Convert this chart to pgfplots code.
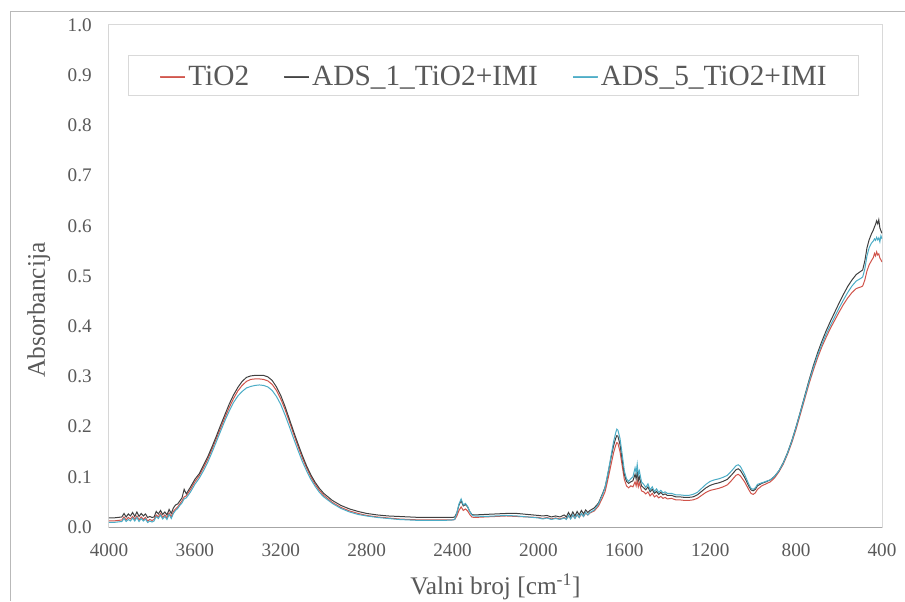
\documentclass[border=0pt]{standalone}
\usepackage{fontspec}
\setmainfont{Liberation Serif}
\usepackage{pgfplots}
\usepackage{pgfplotstable}
\pgfplotsset{compat=1.18}

\definecolor{txtgray}{HTML}{595959}
\definecolor{tio}{HTML}{D0534A}
\definecolor{adsone}{HTML}{404040}
\definecolor{adsfive}{HTML}{4BACC6}

% wavenumber, TiO2, ADS_1_TiO2+IMI, ADS_5_TiO2+IMI
\pgfplotstableread{
x     a      b      c
4000  0.012  0.018  0.009
3980  0.012  0.018  0.009
3960  0.013  0.019  0.010
3940  0.014  0.020  0.011
3930  0.020  0.027  0.017
3920  0.014  0.020  0.011
3910  0.019  0.026  0.015
3900  0.016  0.022  0.012
3890  0.021  0.029  0.018
3880  0.015  0.021  0.012
3870  0.022  0.030  0.019
3860  0.014  0.021  0.011
3850  0.020  0.027  0.017
3840  0.015  0.022  0.012
3830  0.019  0.026  0.016
3820  0.012  0.019  0.009
3810  0.015  0.021  0.012
3800  0.013  0.019  0.010
3790  0.015  0.020  0.012
3780  0.024  0.031  0.021
3770  0.020  0.026  0.017
3760  0.027  0.033  0.024
3750  0.019  0.025  0.016
3740  0.024  0.030  0.021
3730  0.018  0.024  0.015
3720  0.028  0.035  0.025
3710  0.020  0.027  0.017
3700  0.031  0.038  0.027
3690  0.036  0.044  0.033
3680  0.040  0.046  0.037
3670  0.046  0.052  0.043
3660  0.052  0.058  0.048
3650  0.060  0.075  0.056
3640  0.062  0.066  0.058
3620  0.075  0.080  0.070
3600  0.090  0.095  0.085
3580  0.102  0.106  0.097
3560  0.118  0.123  0.112
3540  0.135  0.140  0.129
3520  0.155  0.160  0.149
3500  0.176  0.181  0.170
3480  0.197  0.203  0.191
3460  0.218  0.224  0.212
3440  0.238  0.245  0.231
3420  0.256  0.263  0.248
3400  0.271  0.278  0.261
3380  0.282  0.290  0.270
3360  0.290  0.298  0.277
3340  0.294  0.301  0.280
3320  0.295  0.302  0.282
3300  0.295  0.302  0.283
3280  0.294  0.302  0.282
3260  0.291  0.299  0.279
3240  0.284  0.292  0.272
3220  0.272  0.279  0.260
3200  0.255  0.262  0.244
3180  0.234  0.240  0.223
3160  0.210  0.215  0.200
3140  0.185  0.190  0.176
3120  0.161  0.166  0.153
3100  0.138  0.143  0.131
3080  0.118  0.122  0.112
3060  0.100  0.104  0.095
3040  0.085  0.089  0.081
3020  0.073  0.077  0.069
3000  0.063  0.067  0.060
2960  0.049  0.053  0.047
2920  0.039  0.043  0.037
2880  0.032  0.036  0.030
2840  0.027  0.031  0.025
2800  0.023  0.027  0.022
2750  0.020  0.024  0.019
2700  0.018  0.022  0.017
2650  0.016  0.021  0.015
2600  0.015  0.020  0.014
2550  0.014  0.019  0.013
2500  0.014  0.019  0.013
2450  0.014  0.019  0.013
2400  0.014  0.019  0.014
2390  0.015  0.020  0.015
2380  0.022  0.028  0.028
2370  0.033  0.044  0.046
2360  0.040  0.052  0.056
2350  0.033  0.042  0.044
2340  0.036  0.045  0.047
2330  0.032  0.040  0.041
2320  0.025  0.031  0.031
2310  0.020  0.025  0.024
2300  0.019  0.024  0.022
2250  0.020  0.025  0.021
2200  0.021  0.026  0.022
2150  0.022  0.027  0.023
2100  0.021  0.027  0.022
2050  0.020  0.025  0.020
2000  0.019  0.023  0.018
1980  0.017  0.022  0.016
1960  0.019  0.023  0.018
1940  0.016  0.020  0.015
1920  0.018  0.022  0.017
1900  0.016  0.020  0.015
1880  0.019  0.024  0.018
1870  0.016  0.020  0.015
1860  0.022  0.029  0.023
1850  0.017  0.021  0.016
1840  0.023  0.030  0.024
1830  0.018  0.022  0.017
1820  0.024  0.031  0.025
1810  0.019  0.024  0.019
1800  0.026  0.033  0.027
1790  0.021  0.026  0.021
1780  0.028  0.034  0.029
1770  0.024  0.029  0.024
1760  0.028  0.033  0.029
1740  0.032  0.038  0.034
1720  0.042  0.048  0.046
1700  0.060  0.068  0.066
1690  0.070  0.079  0.078
1680  0.088  0.098  0.100
1670  0.108  0.120  0.122
1660  0.128  0.142  0.146
1650  0.148  0.162  0.170
1640  0.163  0.177  0.188
1635  0.168  0.182  0.195
1630  0.167  0.181  0.193
1620  0.150  0.164  0.176
1610  0.122  0.134  0.145
1600  0.095  0.105  0.112
1590  0.082  0.091  0.096
1580  0.078  0.087  0.091
1570  0.082  0.090  0.096
1560  0.080  0.092  0.100
1550  0.090  0.105  0.118
1545  0.082  0.096  0.108
1540  0.093  0.110  0.125
1535  0.080  0.092  0.104
1530  0.088  0.100  0.112
1520  0.072  0.082  0.090
1510  0.070  0.078  0.085
1500  0.066  0.074  0.079
1490  0.070  0.080  0.086
1480  0.062  0.070  0.074
1470  0.067  0.075  0.080
1460  0.060  0.067  0.071
1450  0.063  0.071  0.076
1440  0.058  0.065  0.069
1430  0.061  0.069  0.073
1420  0.057  0.064  0.068
1410  0.059  0.066  0.070
1400  0.056  0.063  0.067
1380  0.057  0.063  0.067
1360  0.054  0.060  0.064
1340  0.054  0.060  0.064
1320  0.053  0.059  0.063
1300  0.053  0.059  0.063
1280  0.054  0.060  0.065
1260  0.057  0.064  0.069
1240  0.063  0.071  0.077
1220  0.069  0.078  0.085
1200  0.073  0.083  0.091
1180  0.075  0.086  0.094
1160  0.077  0.088  0.096
1140  0.080  0.091  0.099
1120  0.084  0.095  0.103
1100  0.093  0.104  0.112
1080  0.103  0.114  0.122
1070  0.105  0.116  0.124
1060  0.102  0.113  0.121
1040  0.090  0.099  0.105
1020  0.074  0.081  0.085
1010  0.067  0.074  0.077
1000  0.065  0.072  0.075
990   0.068  0.075  0.078
980   0.075  0.082  0.085
960   0.082  0.087  0.088
940   0.086  0.090  0.091
920   0.090  0.094  0.094
900   0.098  0.101  0.101
880   0.110  0.112  0.112
860   0.125  0.128  0.127
840   0.145  0.148  0.147
820   0.168  0.172  0.171
800   0.195  0.200  0.199
780   0.225  0.230  0.229
760   0.255  0.261  0.259
740   0.285  0.292  0.289
720   0.312  0.321  0.317
700   0.337  0.347  0.342
680   0.359  0.370  0.364
660   0.378  0.391  0.384
640   0.396  0.410  0.402
620   0.412  0.428  0.419
600   0.428  0.446  0.436
580   0.443  0.463  0.452
560   0.456  0.479  0.467
540   0.467  0.492  0.480
520   0.475  0.503  0.490
500   0.478  0.509  0.495
490   0.480  0.512  0.498
480   0.492  0.530  0.514
470   0.510  0.556  0.540
460   0.522  0.572  0.556
450   0.530  0.583  0.565
440   0.537  0.592  0.570
435   0.545  0.598  0.574
430   0.540  0.603  0.571
425   0.548  0.610  0.577
420   0.542  0.604  0.572
415   0.544  0.612  0.576
410   0.536  0.596  0.568
405   0.532  0.590  0.580
400   0.528  0.585  0.574
}\spectra

\begin{document}
\begin{tikzpicture}
\useasboundingbox (0,0) rectangle (678.75pt,450.75pt);
% outer chart frame (right and bottom edges fall outside the picture)
\draw[gray!55, line width=0.75pt] (7.5pt,0pt) -- (7.5pt,441.75pt) -- (678.75pt,441.75pt);
\begin{axis}[
    at={(81.75pt,55.5pt)}, anchor=south west,
    scale only axis,
    width=579.75pt, height=376.5pt,
    x dir=reverse,
    xmin=400, xmax=4000,
    ymin=0, ymax=1,
    xtick={400,800,1200,1600,2000,2400,2800,3200,3600,4000},
    ytick={0,0.1,0.2,0.3,0.4,0.5,0.6,0.7,0.8,0.9,1.0},
    major tick length=0pt,
    axis line style={draw=gray!30, line width=0.75pt},
    /pgf/number format/assume math mode=true,
    tick label style={font=\fontsize{14.4}{16}\selectfont, text=txtgray, inner sep=0pt},
    xticklabel style={anchor=north, yshift=-12pt, /pgf/number format/1000 sep={}},
    yticklabel style={anchor=east, xshift=-12.75pt,
        /pgf/number format/.cd, fixed, fixed zerofill, precision=1},
    xlabel={Valni broj [cm\textsuperscript{-1}]},
    ylabel={Absorbancija},
    label style={font=\fontsize{19}{22}\selectfont, text=txtgray, inner sep=0pt},
    xlabel style={at={(axis description cs:0.5,-0.1335)}, anchor=base},
    ylabel style={at={(axis description cs:-0.0828,0.432)}, anchor=base},
    legend columns=3,
    legend image code/.code={\fill[#1, opacity=0.85] (0pt,-1.6pt) rectangle (18pt,-0.8pt);},
    legend style={at={(axis description cs:0.4974,0.8994)}, anchor=center,
        draw=gray!30, line width=0.75pt,
        font=\fontsize{22}{26}\selectfont,
        inner xsep=24pt, inner ysep=8pt,
        nodes={inner sep=0pt, text height=14.6pt, text depth=0pt},
        column sep=2.25pt,
        /tikz/every even column/.append style={column sep=26.25pt}},
]
\addplot[color=tio, line width=0.75pt] table[x=x, y=a] {\spectra};
\addplot[color=adsone, line width=0.75pt] table[x=x, y=b] {\spectra};
\addplot[color=adsfive, line width=0.75pt] table[x=x, y=c] {\spectra};
\legend{\textcolor{txtgray}{TiO2}, \textcolor{txtgray}{ADS\_1\_TiO2+IMI}, \textcolor{txtgray}{ADS\_5\_TiO2+IMI}}
\draw[gray!70, line width=0.75pt] (axis description cs:0,0) -- (axis description cs:1,0);
\draw[gray!45, line width=0.75pt] (axis description cs:0,0) -- (axis description cs:0,1);
\end{axis}
\end{tikzpicture}
\end{document}
